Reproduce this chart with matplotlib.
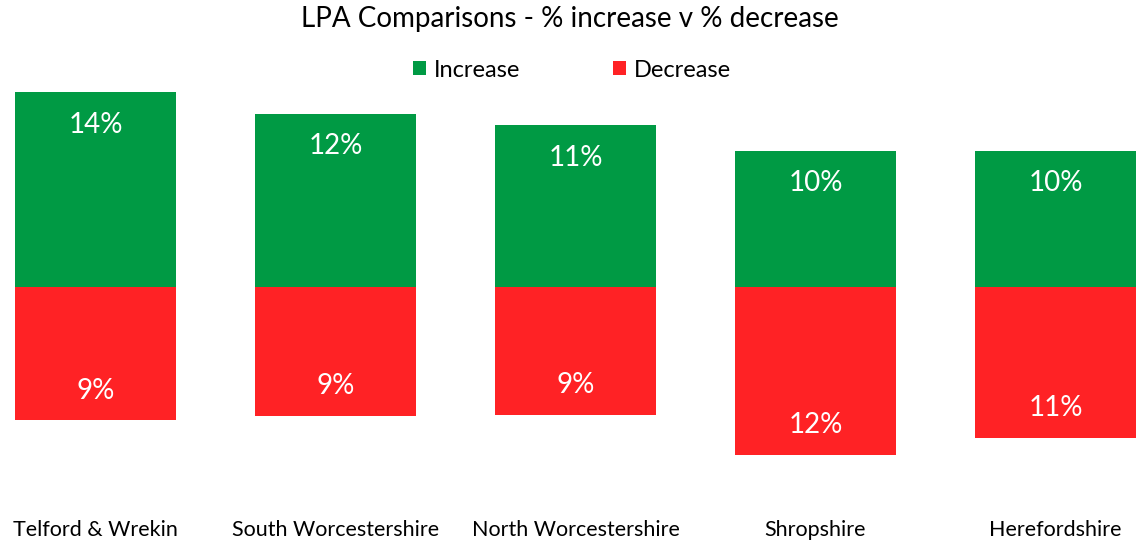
import numpy as np
import matplotlib.pyplot as plt

plt.rcParams['font.family'] = ['Lato', 'DejaVu Sans']

# data (percent)
areas = ['Telford & Wrekin', 'South Worcestershire', 'North Worcestershire',
         'Shropshire', 'Herefordshire']
increase = [13.7, 12.2, 11.4, 9.6, 9.6]
decrease = [9.4, 9.1, 9.0, 11.8, 10.6]

green = '#009A44'
red = '#FF2225'


def main():
    fig = plt.figure(figsize=(11.39, 5.49), dpi=100)
    ax = fig.add_axes([0, 0, 1, 1])

    x = np.arange(len(areas))
    inc = np.array(increase)
    dec = -np.array(decrease)

    ax.bar(x, inc, width=0.67, color=green, label='Increase')
    ax.bar(x, dec, width=0.67, color=red, label='Decrease')

    # labels sit inside the outer end of each bar
    for xi, v in zip(x, inc):
        ax.text(xi, v - 2.3, '%d%%' % round(v), ha='center', va='center',
                color='white', fontsize=20)
    for xi, v in zip(x, dec):
        ax.text(xi, v + 2.1, '%d%%' % round(-v), ha='center', va='center',
                color='white', fontsize=20)

    # category names along the bottom
    for xi, name in zip(x, areas):
        ax.text(xi, -17.1, name, ha='center', va='center', fontsize=15.5)

    ax.set_xlim(-0.398, 4.348)
    ax.set_ylim(-18.45, 20.21)
    ax.axis('off')

    fig.text(0.5, 1 - 19 / 549, 'LPA Comparisons - % increase v % decrease',
             ha='center', va='center', fontsize=20)
    fig.legend(loc='center', bbox_to_anchor=(572 / 1139, 1 - 70 / 549),
               ncol=2, frameon=False, fontsize=17, handlelength=0.55,
               handleheight=0.55, handletextpad=0.35, columnspacing=3.9)

    fig.savefig('out.png', dpi=100)


if __name__ == "__main__":
    main()
